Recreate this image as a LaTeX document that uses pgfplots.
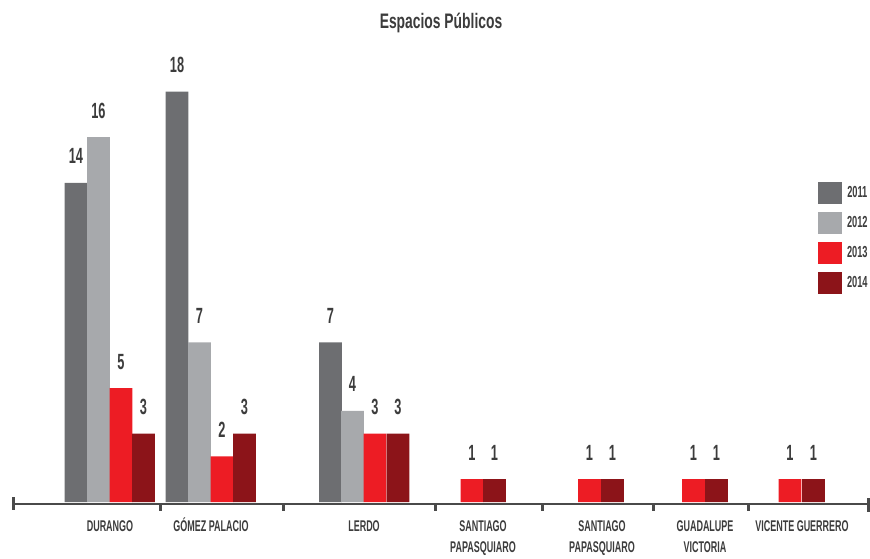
\documentclass[border=0pt]{standalone}
\usepackage{pgfplots}
\pgfplotsset{compat=1.18}
\usepackage{fontspec}
\setmainfont{Liberation Sans}
\newfontfamily\cond[FakeStretch=0.58]{Liberation Sans}
\newfontfamily\tcond[FakeStretch=0.66]{Liberation Sans}
\definecolor{c11}{HTML}{6D6E71}
\definecolor{c12}{HTML}{A7A9AC}
\definecolor{c13}{HTML}{ED1C24}
\definecolor{c14}{HTML}{8C1419}
\definecolor{txt}{HTML}{3C3C3C}
\definecolor{axl}{HTML}{4A4A4A}
\begin{document}
\begin{tikzpicture}
\begin{axis}[
  scale only axis, width=870pt, height=554pt,
  xmin=0, xmax=870, ymin=-2.2807, ymax=22.0175,
  hide axis, clip=false,
  /pgf/number format/assume math mode=true,
  ybar, bar width=22.8, bar shift=0pt,
  nodes near coords,
  every node near coord/.append style={font=\cond\bfseries\fontsize{22}{24}\selectfont, text=txt, anchor=base, yshift=19pt},
  legend style={at={(axis cs:818,14.04)}, anchor=north west, draw=none, fill=none,
    inner sep=0pt, outer sep=0pt, row sep=8pt,
    font=\cond\bfseries\fontsize{16}{18}\selectfont, text=txt,
    nodes={inner sep=0pt},
    /tikz/every odd column/.append style={column sep=5pt}},
  legend image code/.code={\fill[#1] (0pt,-11pt) rectangle (24pt,11pt);},
]
\addplot[fill=c11, draw=none] coordinates {(76,14) (177,18) (330.5,7)};
\addplot[fill=c12, draw=none] coordinates {(98.5,16) (199.5,7) (352.5,4)};
\addplot[fill=c13, draw=none] coordinates {(121,5) (222,2) (375,3) (472,1) (589.5,1) (693.5,1) (790,1)};
\addplot[fill=c14, draw=none] coordinates {(143.5,3) (244.5,3) (398,3) (494.5,1) (612.5,1) (716.5,1) (813.5,1)};
\legend{2011,2012,2013,2014}

\path (rel axis cs:0,0) rectangle (rel axis cs:1,1);

\node[anchor=base, font=\tcond\bfseries\fontsize{21}{24}\selectfont, text=txt] at (axis cs:441,20.75) {Espacios Públicos};

\draw[axl, line width=2.7pt] (axis cs:13,{-2/22.8}) -- (axis cs:868,{-2/22.8});
\draw[axl, line width=3pt] (axis cs:13,{5/22.8}) -- (axis cs:13,{-8/22.8});
\draw[axl, line width=3pt] (axis cs:868,{4/22.8}) -- (axis cs:868,{-10/22.8});
\draw[axl, line width=3pt] (axis cs:160,{-2/22.8}) -- (axis cs:160,{-9/22.8});
\draw[axl, line width=3pt] (axis cs:283,{-2/22.8}) -- (axis cs:283,{-9/22.8});
\draw[axl, line width=3pt] (axis cs:435,{-2/22.8}) -- (axis cs:435,{-9/22.8});
\draw[axl, line width=3pt] (axis cs:542,{-2/22.8}) -- (axis cs:542,{-9/22.8});
\draw[axl, line width=3pt] (axis cs:653,{-2/22.8}) -- (axis cs:653,{-9/22.8});
\draw[axl, line width=3pt] (axis cs:748,{-2/22.8}) -- (axis cs:748,{-9/22.8});

\tikzset{catlab/.style={anchor=base, font=\cond\bfseries\fontsize{15.5}{18}\selectfont, text=txt}}
\node[catlab] at (axis cs:110,-1.272) {DURANGO};
\node[catlab] at (axis cs:211,-1.272) {GÓMEZ PALACIO};
\node[catlab] at (axis cs:364,-1.272) {LERDO};
\node[catlab] at (axis cs:483,-1.272) {SANTIAGO};
\node[catlab] at (axis cs:483,-2.193) {PAPASQUIARO};
\node[catlab] at (axis cs:602,-1.272) {SANTIAGO};
\node[catlab] at (axis cs:602,-2.193) {PAPASQUIARO};
\node[catlab] at (axis cs:705,-1.272) {GUADALUPE};
\node[catlab] at (axis cs:705,-2.193) {VICTORIA};
\node[catlab] at (axis cs:802,-1.272) {VICENTE GUERRERO};
\end{axis}
\end{tikzpicture}
\end{document}
